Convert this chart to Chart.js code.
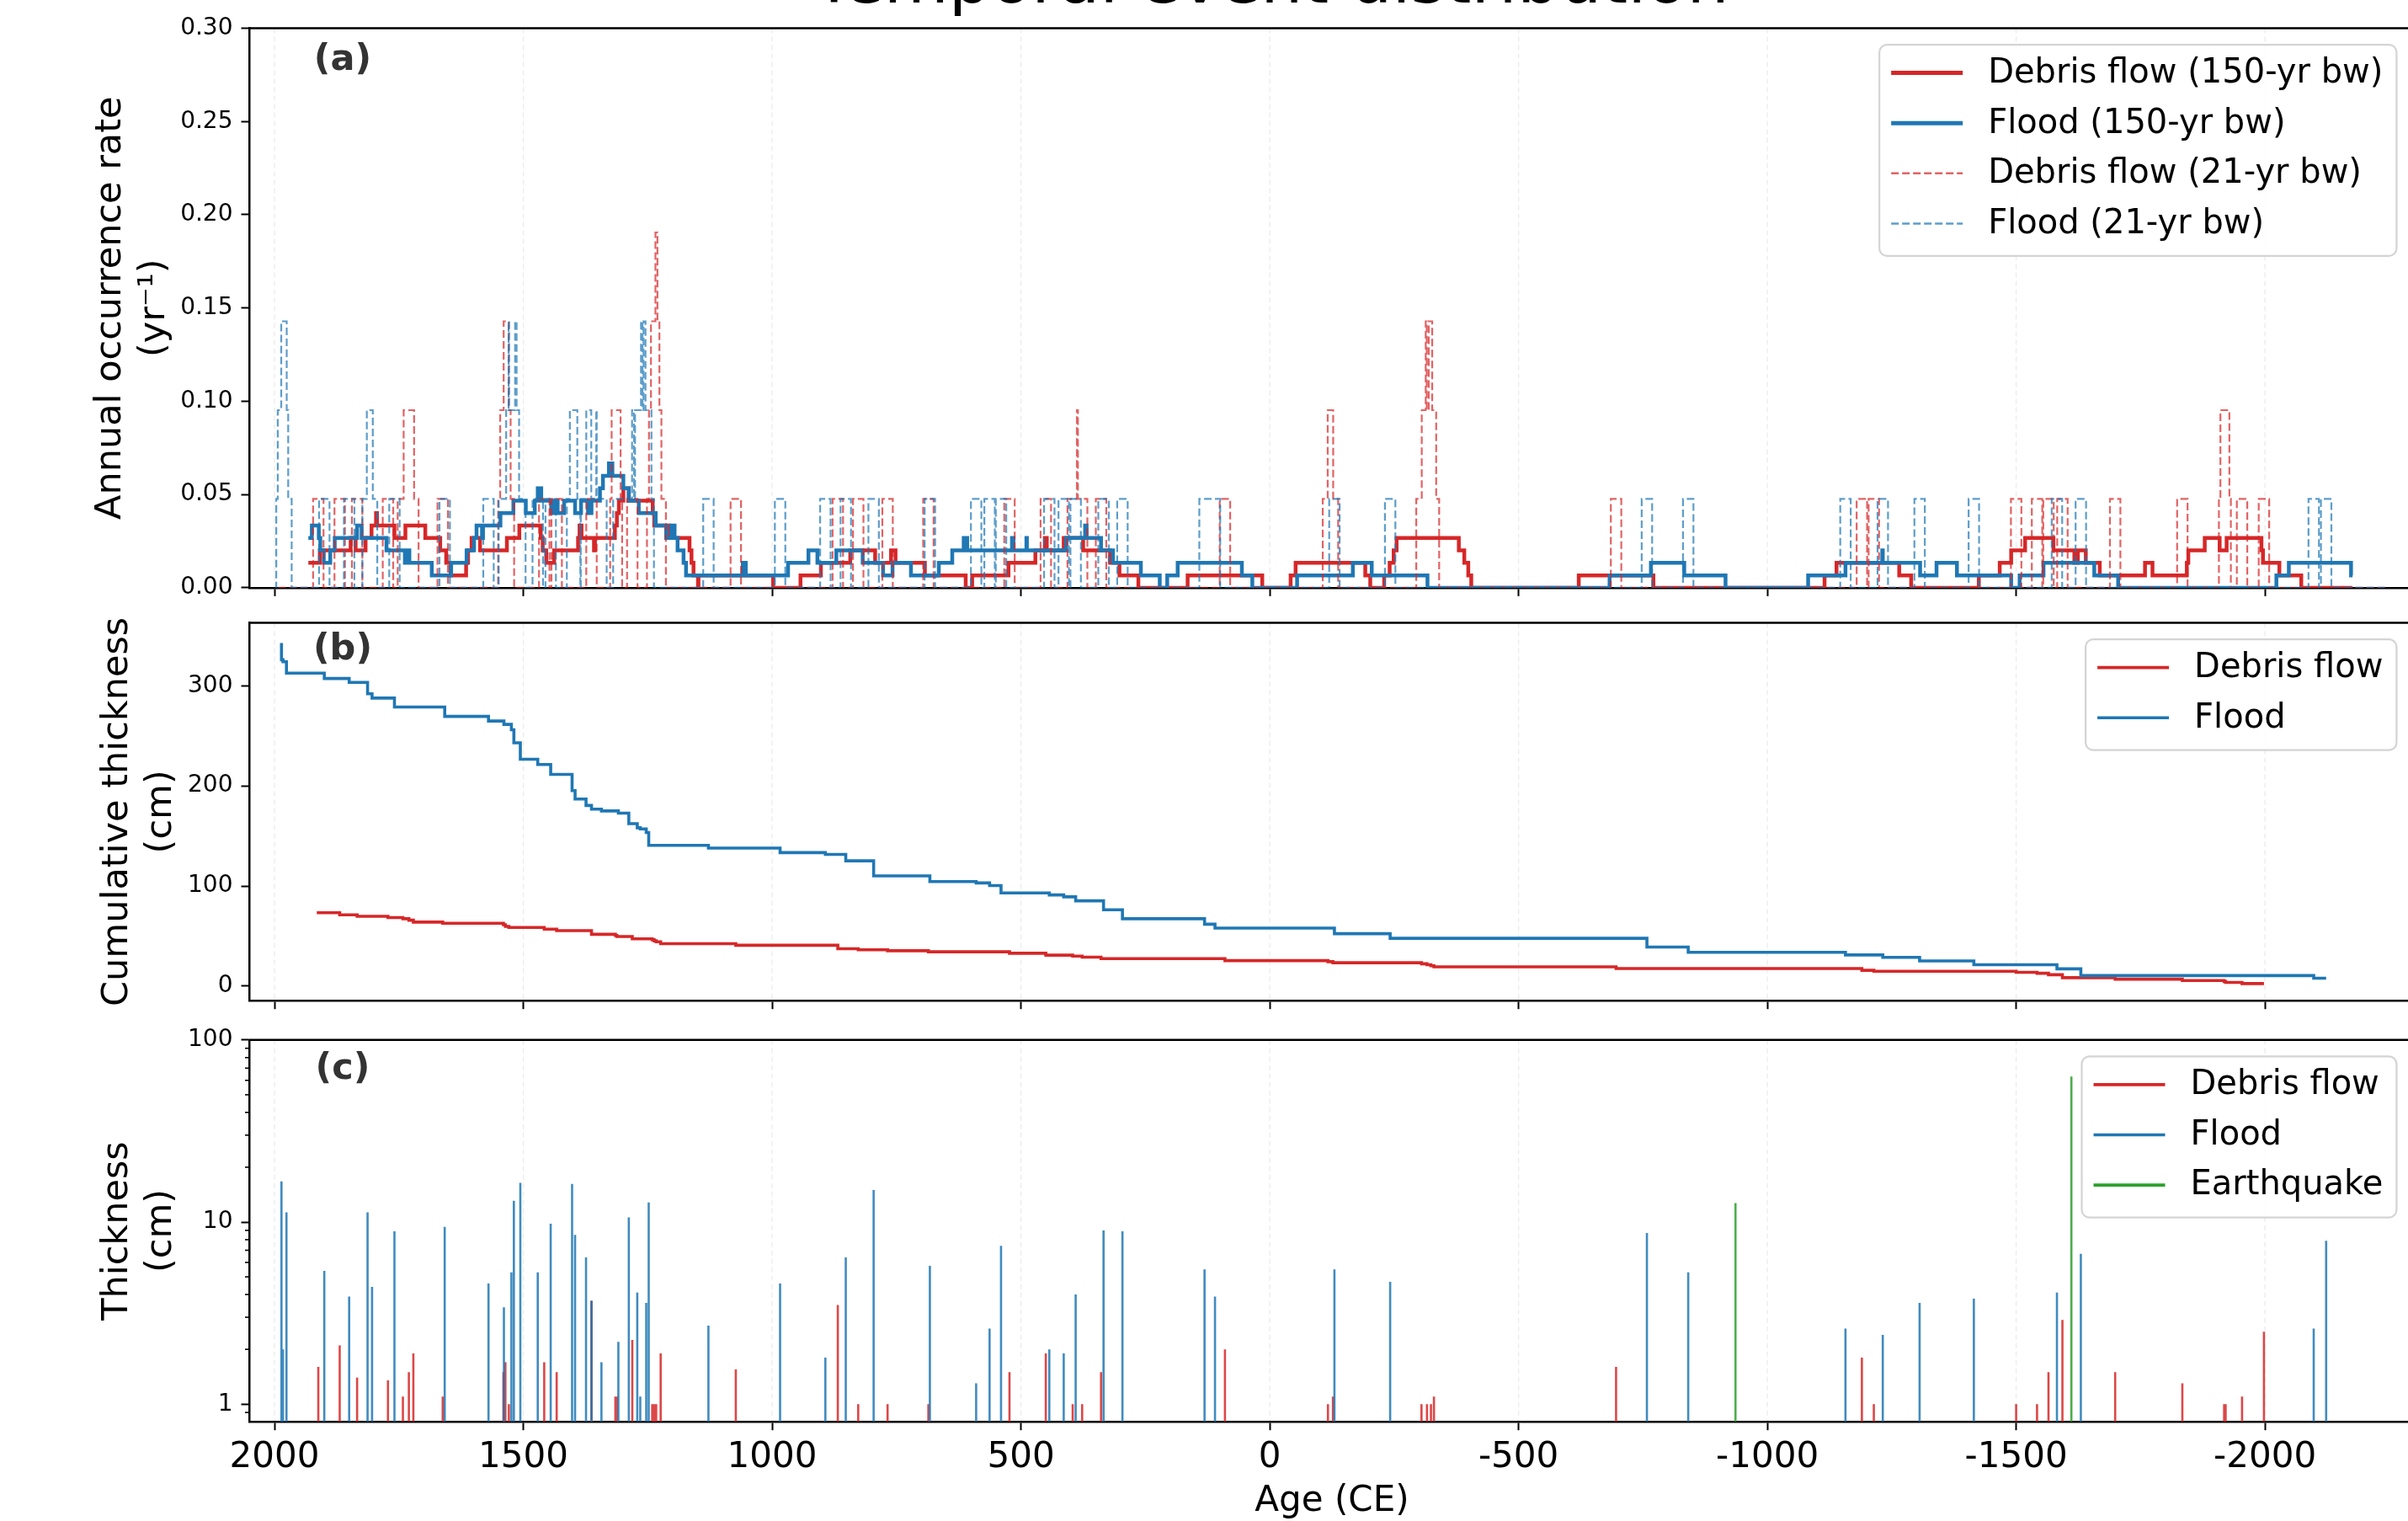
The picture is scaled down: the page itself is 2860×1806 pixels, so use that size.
<!DOCTYPE html>
<html><head><meta charset="utf-8">
<script src="https://cdn.jsdelivr.net/npm/chart.js@4.4.1/dist/chart.umd.min.js"></script>
<style>
html,body{margin:0;padding:0;background:#fff;overflow:hidden;width:2860px;height:1806px;position:relative;}
canvas{position:absolute;left:0;}
</style></head><body>
<canvas id="ca" width="2880" height="725" style="top:0px"></canvas>
<canvas id="cb" width="2880" height="525" style="top:690px"></canvas>
<canvas id="cc" width="2880" height="626" style="top:1180px"></canvas>
<script>
// ---------------- data ----------------
const floodYears = [1986,1983,1976,1900,1850,1813,1804,1759,1658,1570,1539,1524,1519,1506,1471,1445,1402,1396,1374,1363,1343,1309,1288,1271,1265,1253,1248,1128,984,893,852,796,683,590,563,540,443,414,390,334,296,131,110,-130,-242,-758,-841,-1157,-1232,-1306,-1415,-1582,-1630,-2098,-2123];
const floodThickness = [16.7,2.0,11.3,5.4,3.9,11.3,4.4,8.9,9.4,4.6,3.4,5.3,13.1,16.4,5.3,9.8,16.2,8.5,6.4,3.7,1.7,2.2,10.6,4.1,1.1,3.6,12.8,2.7,4.6,1.8,6.4,15.0,5.75,1.3,2.6,7.4,2.0,1.9,4.0,9.0,8.9,5.5,3.9,5.5,4.7,8.7,5.3,2.6,2.4,3.6,3.8,4.1,6.7,2.6,7.9];
const debrisYears = [1912,1869,1834,1772,1742,1730,1721,1662,1540,1536,1529,1458,1433,1363,1315,1312,1281,1241,1237,1233,1224,1073,868,827,768,686,523,450,396,377,339,90,-117,-127,-305,-316,-324,-330,-696,-1190,-1214,-1500,-1542,-1565,-1593,-1699,-1834,-1918,-1921,-1954,-1998];
const debrisThickness = [1.6,2.1,1.4,1.35,1.1,1.5,1.9,1.1,1.5,1.7,1.0,1.7,1.5,3.7,1.1,1.1,2.25,1.0,1.0,1.0,1.9,1.55,3.5,1.0,1.0,1.0,1.5,1.9,1.0,1.0,1.5,2.0,1.0,1.1,1.0,1.0,1.0,1.1,1.6,1.8,1.0,1.0,1.0,1.5,2.9,1.5,1.3,1.0,1.0,1.1,2.5];
const quakeYears = [-936,-1611];
const quakeThickness = [12.7,63];

const xTickValues = [2000,1500,1000,500,0,-500,-1000,-1500,-2000];
const rateTicks = [0,0.05,0.10,0.15,0.20,0.25,0.30];
const cumTicks = [0,100,200,300];
const thickMajorTicks = [1,10,100];
const thickMinorTicks = [0.9,2,3,4,5,6,7,8,9,20,30,40,50,60,70,80,90];

const broadWindow = 150, narrowWindow = 21;          // bandwidths in years (legend)
const broadSpan = [-2176, 1932];                       // extent of the 150-yr curves
const narrowSpan = [-2241, 1997];                      // extent of the 21-yr curves

// ---------------- styling ----------------
const FONT = "'DejaVu Sans', sans-serif";
const RED = '#d62728', BLUE = '#1f77b4', GREEN = '#2ca02c';
const REDA = 'rgba(214,39,40,0.72)', BLUEA = 'rgba(31,119,180,0.72)';
const REDS = 'rgba(214,39,40,0.85)', BLUES = 'rgba(31,119,180,0.85)', GREENS = 'rgba(44,160,44,0.85)';
const X_MIN = -2300, X_MAX = 2050;
const PLOT_LEFT = 296.5, CANVAS_W = 2880, PLOT_RIGHT = 2867.4;

// ---------------- helpers building library datasets ----------------
// point i carries the value held on [x_i, x_{i+1}] (drawn with stepped 'before')
function windowRate(years, width, span) {
  const half = width / 2, lo = span[0], hi = span[1];
  const bps = new Set([lo, hi]);
  years.forEach(e => [e - half, e + half].forEach(b => { if (b > lo && b < hi) bps.add(b); }));
  const xs = [...bps].sort((a, b) => a - b);
  const pts = [];
  for (let i = 0; i < xs.length - 1; i++) {
    const mid = (xs[i] + xs[i + 1]) / 2;
    pts.push({x: xs[i], y: years.filter(e => Math.abs(e - mid) <= half).length / width});
  }
  pts.push({x: hi, y: pts[pts.length - 1].y});
  return pts;
}
function cumulative(years, thick) {
  const idx = years.map((_, i) => i).sort((a, b) => years[a] - years[b]);
  let s = 0;
  return idx.map(i => { s += thick[i]; return {x: years[i], y: s}; });
}
function stems(years, thick, base) {
  const pts = [];
  years.forEach((y, i) => { pts.push({x: y, y: base}, {x: y, y: thick[i]}, {x: y, y: null}); });
  return pts;
}

// ---------------- decoration plugin ----------------
const decor = {
  id: 'decor',
  beforeDatasetsDraw(chart, args, o) {
    const {ctx, chartArea: ca, scales: {x}} = chart;
    ctx.save();
    ctx.strokeStyle = 'rgba(0,0,0,0.08)';
    ctx.lineWidth = 1.3;
    ctx.setLineDash([6, 4]);
    xTickValues.forEach(v => {
      const px = x.getPixelForValue(v);
      ctx.beginPath(); ctx.moveTo(px, ca.top); ctx.lineTo(px, ca.bottom); ctx.stroke();
    });
    ctx.restore();
  },
  afterDraw(chart, args, o) {
    const {ctx, chartArea: ca} = chart;
    ctx.save();
    ctx.strokeStyle = '#000'; ctx.lineWidth = 2.5;
    ctx.beginPath(); ctx.moveTo(ca.left - 1.25, ca.top); ctx.lineTo(ca.right, ca.top); ctx.stroke();
    if (o.minor) {
      const y = chart.scales.y;
      ctx.lineWidth = 1.6;
      thickMinorTicks.forEach(v => {
        const py = y.getPixelForValue(v);
        ctx.beginPath(); ctx.moveTo(ca.left, py); ctx.lineTo(ca.left - 5.5, py); ctx.stroke();
      });
    }
    // panel letter
    ctx.fillStyle = '#333';
    ctx.font = `bold 43px ${FONT}`;
    ctx.textAlign = 'center'; ctx.textBaseline = 'middle';
    ctx.fillText(o.letter, 407, ca.top + o.letterDy);
    // title
    if (o.title) {
      ctx.fillStyle = '#000';
      ctx.font = `79px ${FONT}`;
      ctx.textAlign = 'center'; ctx.textBaseline = 'alphabetic';
      ctx.fillText(o.title, 1510, o.titleBase);
    }
    // legend
    const items = o.legend;
    ctx.font = `40px ${FONT}`;
    const tw = Math.max(...items.map(it => ctx.measureText(it.label).width));
    const padL = 14, lineLen = 85, gap = 30, padR = 16, rowH = 59.6;
    const right = ca.right - 21, top = ca.top + 19.6;
    const w = padL + lineLen + gap + tw + padR;
    const h = 33.5 + (items.length - 1) * rowH + 38.5;
    const left = right - w;
    ctx.beginPath();
    ctx.roundRect(left, top, w, h, 9);
    ctx.fillStyle = 'rgba(255,255,255,0.85)'; ctx.fill();
    ctx.strokeStyle = '#d4d4d4'; ctx.lineWidth = 2.2; ctx.stroke();
    items.forEach((it, i) => {
      const yy = top + 33.5 + i * rowH;
      ctx.save();
      ctx.strokeStyle = it.color; ctx.lineWidth = it.width; ctx.setLineDash(it.dash || []);
      ctx.beginPath(); ctx.moveTo(left + padL, yy); ctx.lineTo(left + padL + lineLen, yy); ctx.stroke();
      ctx.restore();
      ctx.fillStyle = '#000'; ctx.textAlign = 'left'; ctx.textBaseline = 'middle';
      ctx.fillText(it.label, left + padL + lineLen + gap, yy + 1);
    });
    ctx.restore();
  }
};

function xScale(height, showLabels) {
  return {
    type: 'linear', reverse: true, min: X_MIN, max: X_MAX,
    afterBuildTicks: s => { s.ticks = xTickValues.map(v => ({value: v})); },
    afterFit: s => { s.height = height; },
    grid: {display: true, drawOnChartArea: false, drawTicks: true, tickLength: 10, tickColor: '#000', tickWidth: 2},
    border: {display: true, color: '#000', width: 2.5},
    ticks: {display: showLabels, autoSkip: false, maxRotation: 0, padding: 8, color: '#000',
      font: {family: FONT, size: 42}, callback: v => String(v)},
    title: {display: showLabels, text: 'Age (CE)', color: '#000', font: {family: FONT, size: 42, lineHeight: 1.1}, padding: {top: 0, bottom: 0}}
  };
}
function yBase(titleLines, titlePad) {
  return {
    afterFit: s => { s.width = PLOT_LEFT; },
    grid: {display: true, drawOnChartArea: false, drawTicks: true, tickLength: 10, tickColor: '#000', tickWidth: 2},
    border: {display: true, color: '#000', width: 2.5},
    title: {display: true, text: titleLines, color: '#000', font: {family: FONT, size: 43, lineHeight: 1.2}, padding: {top: titlePad, bottom: 0}}
  };
}
const common = (padTop) => ({
  responsive: false, animation: false, devicePixelRatio: 1,
  layout: {padding: {left: 0, right: CANVAS_W - PLOT_RIGHT, top: padTop, bottom: 0}},
  plugins: {legend: {display: false}, tooltip: {enabled: false}},
  elements: {point: {radius: 0}, line: {tension: 0, borderJoinStyle: 'miter', borderCapStyle: 'butt'}}
});

// ---------------- panel (a) ----------------
{
  const o = common(33.5);
  o.scales = {
    x: xScale(725 - 697.9, false),
    y: Object.assign(yBase(['Annual occurrence rate', '(yr\u207B\u00B9)'], 106), {
      type: 'linear', min: 0, max: 0.30,
      afterBuildTicks: s => { s.ticks = rateTicks.map(v => ({value: v})); },
      ticks: {padding: 10, color: '#000', font: {family: FONT, size: 28}, callback: v => Number(v).toFixed(2)}
    })
  };
  o.plugins.decor = {
    letter: '(a)', letterDy: 38.5, title: 'Temporal event distribution', titleBase: 3,
    legend: [
      {label: 'Debris flow (150-yr bw)', color: RED, width: 5},
      {label: 'Flood (150-yr bw)', color: BLUE, width: 5},
      {label: 'Debris flow (21-yr bw)', color: REDA, width: 2.5, dash: [9, 4]},
      {label: 'Flood (21-yr bw)', color: BLUEA, width: 2.5, dash: [9, 4]}
    ]
  };
  new Chart(document.getElementById('ca'), {
    type: 'line',
    data: {datasets: [
      {label: 'Debris flow (150-yr bw)', data: windowRate(debrisYears, broadWindow, broadSpan), borderColor: RED, borderWidth: 4.5, stepped: 'before', order: 3},
      {label: 'Flood (150-yr bw)', data: windowRate(floodYears, broadWindow, broadSpan), borderColor: BLUE, borderWidth: 4.5, stepped: 'before', order: 2},
      {label: 'Debris flow (21-yr bw)', data: windowRate(debrisYears, narrowWindow, narrowSpan), borderColor: REDA, borderWidth: 2.2, borderDash: [9, 4], stepped: 'before', order: 1},
      {label: 'Flood (21-yr bw)', data: windowRate(floodYears, narrowWindow, narrowSpan), borderColor: BLUEA, borderWidth: 2.2, borderDash: [9, 4], stepped: 'before', order: 0}
    ]},
    options: o, plugins: [decor]
  });
}
// ---------------- panel (b) ----------------
{
  const o = common(739.5 - 690);
  o.scales = {
    x: xScale(1215 - 1192.7, false),
    y: Object.assign(yBase(['Cumulative thickness', '(cm)'], 114), {
      type: 'linear', min: -14.6, max: 363,
      afterBuildTicks: s => { s.ticks = cumTicks.map(v => ({value: v})); },
      ticks: {padding: 10, color: '#000', font: {family: FONT, size: 28}, callback: v => String(v)}
    })
  };
  o.plugins.decor = {
    letter: '(b)', letterDy: 32,
    legend: [
      {label: 'Debris flow', color: RED, width: 3.6},
      {label: 'Flood', color: BLUE, width: 3.6}
    ]
  };
  new Chart(document.getElementById('cb'), {
    type: 'line',
    data: {datasets: [
      {label: 'Debris flow', data: cumulative(debrisYears, debrisThickness), borderColor: RED, borderWidth: 3.6, stepped: 'before', order: 2},
      {label: 'Flood', data: cumulative(floodYears, floodThickness), borderColor: BLUE, borderWidth: 3.6, stepped: 'before', order: 1}
    ]},
    options: o, plugins: [decor]
  });
}
// ---------------- panel (c) ----------------
{
  const o = common(1234.8 - 1180);
  const yMin = 0.8;
  o.scales = {
    x: xScale(1806 - 1688.2, true),
    y: Object.assign(yBase(['Thickness', '(cm)'], 114), {
      type: 'logarithmic', min: yMin, max: 100,
      afterBuildTicks: s => { s.ticks = thickMajorTicks.map(v => ({value: v, major: true})); },
      ticks: {padding: 10, color: '#000', font: {family: FONT, size: 28}, callback: v => String(v)}
    })
  };
  o.plugins.decor = {
    letter: '(c)', letterDy: 35, minor: true,
    legend: [
      {label: 'Debris flow', color: RED, width: 3.6},
      {label: 'Flood', color: BLUE, width: 3.6},
      {label: 'Earthquake', color: GREEN, width: 3.6}
    ]
  };
  new Chart(document.getElementById('cc'), {
    type: 'line',
    data: {datasets: [
      {label: 'Debris flow', data: stems(debrisYears, debrisThickness, yMin), borderColor: REDS, borderWidth: 2.6, spanGaps: false, order: 3},
      {label: 'Flood', data: stems(floodYears, floodThickness, yMin), borderColor: BLUES, borderWidth: 2.6, spanGaps: false, order: 2},
      {label: 'Earthquake', data: stems(quakeYears, quakeThickness, yMin), borderColor: GREENS, borderWidth: 2.6, spanGaps: false, order: 1}
    ]},
    options: o, plugins: [decor]
  });
}
</script>
</body></html>
